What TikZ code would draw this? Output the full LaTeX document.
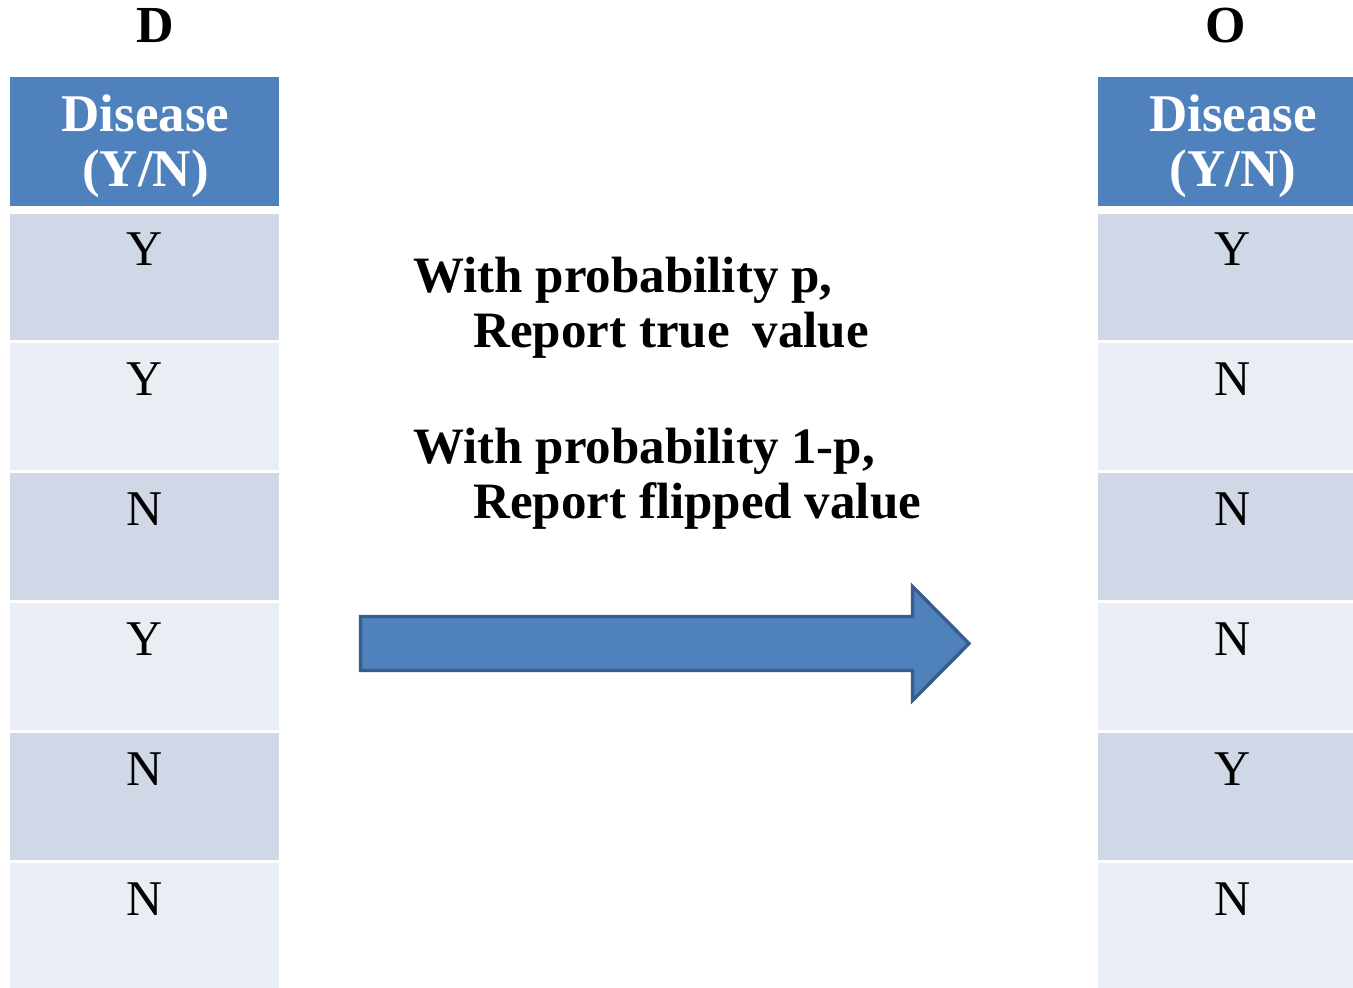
\documentclass[tikz,border=0pt]{standalone}
\usepackage{fontspec}
\setmainfont{Liberation Serif}
\definecolor{hdrblue}{HTML}{4F81BD}
\definecolor{arrowedge}{HTML}{385D8A}
\definecolor{rowdark}{HTML}{D0D8E8}
\definecolor{rowlight}{HTML}{E9EDF4}
\begin{document}
\begin{tikzpicture}[x=0.5pt,y=-0.5pt,line join=miter,
    hdrtext/.style={anchor=base,text=white,inner sep=0pt,font=\fontsize{26.5}{29}\bfseries\selectfont},
    cell/.style={anchor=base,inner sep=0pt,font=\fontsize{25}{27.5}\selectfont},
    colname/.style={anchor=base,inner sep=0pt,font=\fontsize{26}{28}\bfseries\selectfont},
    rule/.style={anchor=base west,inner sep=0pt,font=\fontsize{25.5}{28}\bfseries\selectfont},
    bigarrow/.style={fill=hdrblue,draw=arrowedge,line width=1.7pt}]
  \useasboundingbox (0,0) rectangle (1353,987);
  \clip (0,0) rectangle (1353,987);
  % column titles
  \node[colname] (dname) at (155,42) {D};
  \node[colname] (oname) at (1226,42) {O};
  % left column
  \fill[hdrblue] (10,77) rectangle (279,206);
  \node[hdrtext] (dh1) at (145.5,131) {Disease};
  \node[hdrtext] (dh2) at (145.5,186) {(Y/N)};
  \fill[rowdark] (10,213.5) rectangle (279,339.5);
  \fill[rowlight] (10,342.5) rectangle (279,469.5);
  \fill[rowdark] (10,472.5) rectangle (279,599.5);
  \fill[rowlight] (10,602.5) rectangle (279,729.5);
  \fill[rowdark] (10,732.5) rectangle (279,859.5);
  \fill[rowlight] (10,862.5) rectangle (279,990);
  \node[cell] (d1) at (144.5,265) {Y};
  \node[cell] (d2) at (144.5,395) {Y};
  \node[cell] (d3) at (144.5,525) {N};
  \node[cell] (d4) at (144.5,655) {Y};
  \node[cell] (d5) at (144.5,785) {N};
  \node[cell] (d6) at (144.5,915) {N};
  % right column
  \fill[hdrblue] (1098,77) rectangle (1367,206);
  \node[hdrtext] (oh1) at (1233,131) {Disease};
  \node[hdrtext] (oh2) at (1233,186) {(Y/N)};
  \fill[rowdark] (1098,213.5) rectangle (1367,339.5);
  \fill[rowlight] (1098,342.5) rectangle (1367,469.5);
  \fill[rowdark] (1098,472.5) rectangle (1367,599.5);
  \fill[rowlight] (1098,602.5) rectangle (1367,729.5);
  \fill[rowdark] (1098,732.5) rectangle (1367,859.5);
  \fill[rowlight] (1098,862.5) rectangle (1367,990);
  \node[cell] (o1) at (1232.5,265) {Y};
  \node[cell] (o2) at (1232.5,395) {N};
  \node[cell] (o3) at (1232.5,525) {N};
  \node[cell] (o4) at (1232.5,655) {N};
  \node[cell] (o5) at (1232.5,785) {Y};
  \node[cell] (o6) at (1232.5,915) {N};
  % the rule
  \node[rule] (keep1) at (413,292) {With probability p,};
  \node[rule] (keep2) at (473,347) {Report true\hspace{0.45em}value};
  \node[rule] (flip1) at (413,463) {With probability 1-p,};
  \node[rule] (flip2) at (473,518) {Report flipped value};
  % arrow
  \draw[bigarrow] (360.5,616.5) -- (912.5,616.5) -- (912.5,586.5) -- (969,643.5)
    -- (912.5,700.5) -- (912.5,670.5) -- (360.5,670.5) -- cycle;
\end{tikzpicture}
\end{document}
